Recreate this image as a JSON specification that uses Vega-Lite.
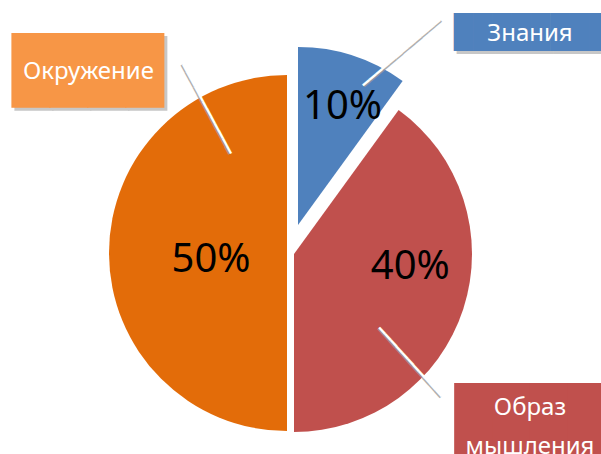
{
 "$schema": "https://vega.github.io/schema/vega-lite/v6.json",
 "width": 580, "height": 402,
 "autosize": {"type": "none"},
 "padding": {"left": 0, "top": 52, "right": 21, "bottom": 0},
 "background": "white",
 "config": {"view": {"stroke": null}},
 "data": {"values": [
  {"cat": "Знания", "share": 0.1},
  {"cat": "Образ мышления", "share": 0.4},
  {"cat": "Окружение", "share": 0.5}
 ]},
 "layer": [
  {"mark": {"type": "arc", "radius": 178, "xOffset": 8, "yOffset": -28},
   "encoding": {
    "theta": {"field": "share", "type": "quantitative", "stack": true},
    "color": {"field": "cat", "type": "nominal", "legend": null, "scale": {"domain": ["Знания", "Образ мышления", "Окружение"], "range": ["#4F81BD", "#C0504D", "#E36C09"]}},
    "fillOpacity": {"condition": {"test": "datum.cat === 'Знания'", "value": 1}, "value": 0}
   }},
  {"mark": {"type": "arc", "radius": 178, "xOffset": 4, "yOffset": 1},
   "encoding": {
    "theta": {"field": "share", "type": "quantitative", "stack": true},
    "color": {"field": "cat", "type": "nominal", "legend": null},
    "fillOpacity": {"condition": {"test": "datum.cat === 'Образ мышления'", "value": 1}, "value": 0}
   }},
  {"mark": {"type": "arc", "radius": 178, "xOffset": -3, "yOffset": 0},
   "encoding": {
    "theta": {"field": "share", "type": "quantitative", "stack": true},
    "color": {"field": "cat", "type": "nominal", "legend": null},
    "fillOpacity": {"condition": {"test": "datum.cat === 'Окружение'", "value": 1}, "value": 0}
   }},
  {"transform": [{"filter": "datum.cat === 'Окружение'"}],
   "mark": {"type": "text", "text": "━━━━━━━━━━━━", "font": "DejaVu Sans Mono", "fontSize": 14, "color": "#9a9a9a", "opacity": 0.8, "theta": 5.7561, "radius": 166.4, "angle": 61.8, "align": "center", "baseline": "middle", "dx": 0, "dy": 1.5}},
  {"transform": [{"filter": "datum.cat === 'Окружение'"}],
   "mark": {"type": "text", "text": "━━━━━━━━━━━━", "font": "DejaVu Sans Mono", "fontSize": 14, "color": "white", "theta": 5.7561, "radius": 166.4, "angle": 61.8, "align": "center", "baseline": "middle"}},
  {"transform": [{"filter": "datum.cat === 'Знания'"}],
   "mark": {"type": "text", "text": "━━━━━━━━━━━━", "font": "DejaVu Sans Mono", "fontSize": 14, "color": "#9a9a9a", "opacity": 0.8, "theta": 0.5109, "radius": 229.1, "angle": 319.7, "align": "center", "baseline": "middle", "dx": 0, "dy": 1.5}},
  {"transform": [{"filter": "datum.cat === 'Знания'"}],
   "mark": {"type": "text", "text": "━━━━━━━━━━━━", "font": "DejaVu Sans Mono", "fontSize": 14, "color": "white", "theta": 0.5109, "radius": 229.1, "angle": 319.7, "align": "center", "baseline": "middle"}},
  {"transform": [{"filter": "datum.cat === 'Образ мышления'"}],
   "mark": {"type": "text", "text": "━━━━━━━━━━━", "font": "DejaVu Sans Mono", "fontSize": 14, "color": "#9a9a9a", "opacity": 0.8, "theta": 2.3105, "radius": 162.4, "angle": 47.8, "align": "center", "baseline": "middle", "dx": 0, "dy": 1.5}},
  {"transform": [{"filter": "datum.cat === 'Образ мышления'"}],
   "mark": {"type": "text", "text": "━━━━━━━━━━━", "font": "DejaVu Sans Mono", "fontSize": 14, "color": "white", "theta": 2.3105, "radius": 162.4, "angle": 47.8, "align": "center", "baseline": "middle"}},
  {"transform": [{"filter": "datum.cat === 'Знания'"}],
   "mark": {"type": "text", "text": "█████████", "font": "DejaVu Sans Mono", "fontSize": 32, "color": "#b0b0b0", "opacity": 0.7, "theta": 0.8501, "radius": 333.4, "align": "center", "baseline": "middle", "dx": 3, "dy": 3}},
  {"transform": [{"filter": "datum.cat === 'Окружение'"}],
   "mark": {"type": "text", "text": "████", "font": "DejaVu Sans Mono", "fontSize": 63, "color": "#b0b0b0", "opacity": 0.7, "theta": 5.4392, "radius": 270.3, "align": "center", "baseline": "middle", "dx": 3, "dy": 3}},
  {"transform": [{"filter": "datum.cat === 'Образ мышления'"}],
   "mark": {"type": "text", "text": "█████", "font": "DejaVu Sans Mono", "fontSize": 63, "color": "#b0b0b0", "opacity": 0.7, "theta": 2.1513, "radius": 310.7, "align": "center", "baseline": "middle", "dx": 3, "dy": 3}},
  {"transform": [{"filter": "datum.cat === 'Знания'"}],
   "mark": {"type": "text", "text": "█████████", "font": "DejaVu Sans Mono", "fontSize": 32, "color": "#4F81BD", "theta": 0.8501, "radius": 333.4, "align": "center", "baseline": "middle"}},
  {"transform": [{"filter": "datum.cat === 'Окружение'"}],
   "mark": {"type": "text", "text": "████", "font": "DejaVu Sans Mono", "fontSize": 63, "color": "#F79646", "theta": 5.4392, "radius": 270.3, "align": "center", "baseline": "middle"}},
  {"transform": [{"filter": "datum.cat === 'Образ мышления'"}],
   "mark": {"type": "text", "text": "█████", "font": "DejaVu Sans Mono", "fontSize": 63, "color": "#C0504D", "theta": 2.1513, "radius": 310.7, "align": "center", "baseline": "middle"}},
  {"transform": [{"filter": "datum.cat === 'Знания'"}],
   "mark": {"type": "text", "font": "Noto Sans", "fontSize": 24, "color": "white", "theta": 0.8311, "radius": 324.9, "align": "center", "baseline": "middle"},
   "encoding": {"text": {"field": "cat", "type": "nominal"}}},
  {"transform": [{"filter": "datum.cat === 'Окружение'"}],
   "mark": {"type": "text", "font": "Noto Sans", "fontSize": 24, "color": "white", "theta": 5.4444, "radius": 270.9, "align": "center", "baseline": "middle"},
   "encoding": {"text": {"field": "cat", "type": "nominal"}}},
  {"transform": [{"filter": "datum.cat === 'Образ мышления'"}],
   "mark": {"type": "text", "font": "Noto Sans", "fontSize": 24, "color": "white", "theta": 2.1443, "radius": 285.7, "align": "center", "baseline": "middle", "lineBreak": " ", "lineHeight": 39},
   "encoding": {"text": {"field": "cat", "type": "nominal"}}},
  {"mark": {"type": "text", "font": "Noto Sans", "fontSize": 40, "color": "black", "radius": 128, "xOffset": 8, "yOffset": -28, "dx": 5, "dy": 4},
   "encoding": {
    "theta": {"field": "share", "type": "quantitative", "stack": true},
    "detail": {"field": "cat", "type": "nominal"},
    "text": {"condition": {"test": "datum.cat === 'Знания'", "field": "share", "type": "quantitative", "format": ".0%"}, "value": ""}
   }},
  {"mark": {"type": "text", "font": "Noto Sans", "fontSize": 40, "color": "black", "radius": 116, "xOffset": 4, "yOffset": 1, "dx": 6, "dy": -23},
   "encoding": {
    "theta": {"field": "share", "type": "quantitative", "stack": true},
    "detail": {"field": "cat", "type": "nominal"},
    "text": {"condition": {"test": "datum.cat === 'Образ мышления'", "field": "share", "type": "quantitative", "format": ".0%"}, "value": ""}
   }},
  {"mark": {"type": "text", "font": "Noto Sans", "fontSize": 40, "color": "black", "radius": 76, "xOffset": -3, "yOffset": 0, "dx": 0, "dy": 7},
   "encoding": {
    "theta": {"field": "share", "type": "quantitative", "stack": true},
    "detail": {"field": "cat", "type": "nominal"},
    "text": {"condition": {"test": "datum.cat === 'Окружение'", "field": "share", "type": "quantitative", "format": ".0%"}, "value": ""}
   }}
 ]
}
